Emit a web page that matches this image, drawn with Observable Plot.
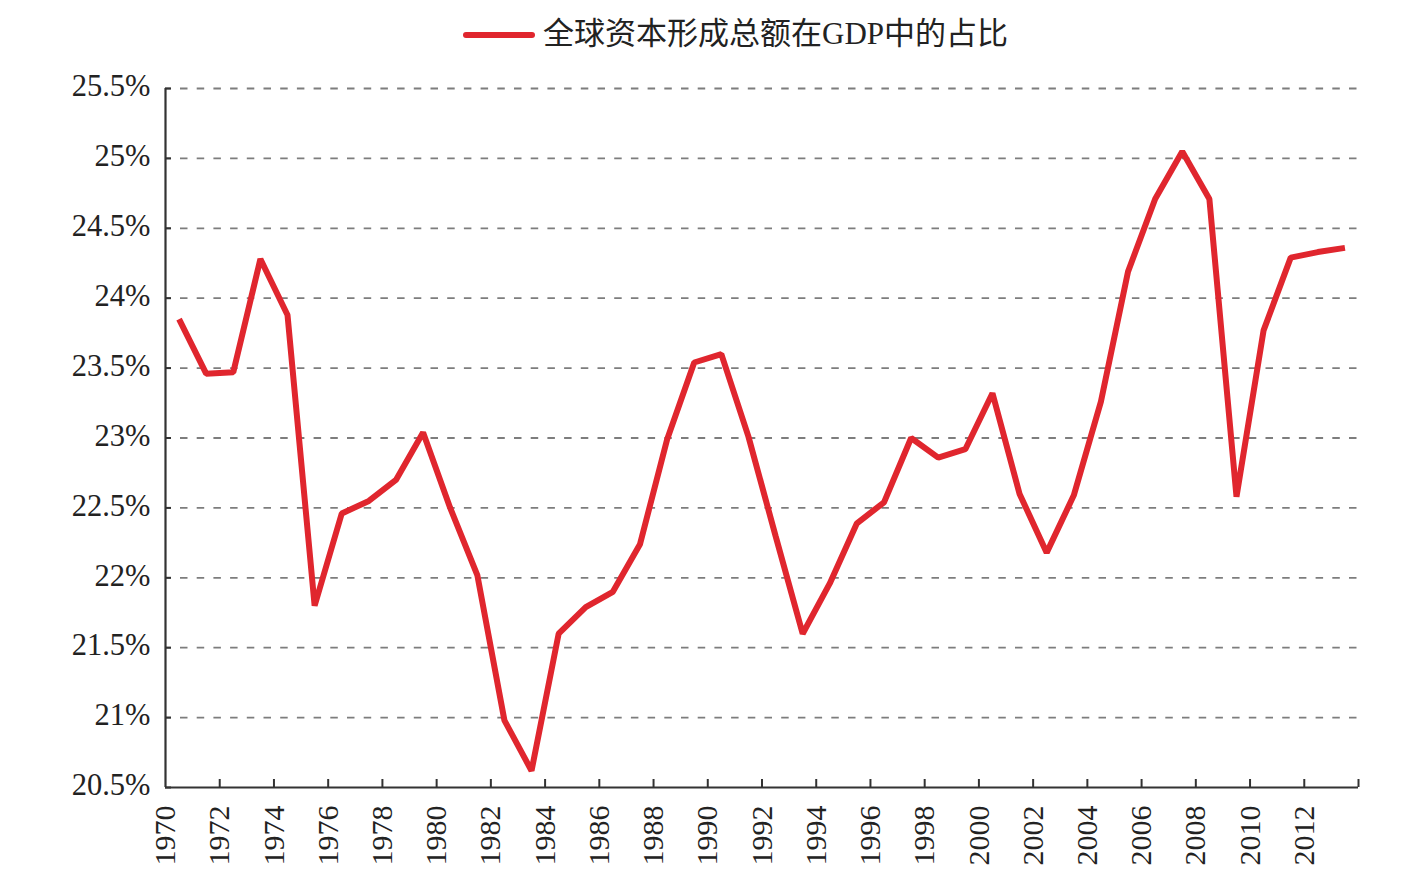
<!DOCTYPE html>
<html>
<head>
<meta charset="utf-8">
<script src="https://cdn.jsdelivr.net/npm/d3@7"></script>
<script src="https://cdn.jsdelivr.net/npm/@observablehq/plot@0.6"></script>
<style>
  html, body { margin: 0; padding: 0; background: #fff; }
  #legend {
    height: 65px; position: relative;
    font-family: "Liberation Serif", "Noto Sans CJK SC", serif;
    font-size: 31px; color: #222;
  }
  #legend .swatch {
    position: absolute; left: 463px; top: 32px; width: 72px; height: 6px;
    border-radius: 3px; background: #e0262e;
  }
  #legend .label { position: absolute; left: 543px; top: 13px; line-height: 42px; white-space: nowrap; }
  #chart svg { display: block; }
</style>
</head>
<body>
<div id="legend"><span class="swatch"></span><span class="label">全球资本形成总额在GDP中的占比</span></div>
<div id="chart"></div>
<script>
// Gross capital formation, share of world GDP (%), 1970–2013
const years = d3.range(1970, 2014);
const shares = [
  23.85, 23.46, 23.47, 24.28, 23.88, 21.80, 22.46, 22.55, 22.70, 23.04,
  22.50, 22.02, 20.98, 20.62, 21.60, 21.79, 21.90, 22.24, 22.99, 23.54,
  23.60, 23.01, 22.30, 21.60, 21.96, 22.39, 22.54, 23.00, 22.86, 22.92,
  23.32, 22.60, 22.18, 22.59, 23.26, 24.19, 24.71, 25.05, 24.71, 22.58,
  23.77, 24.29, 24.33, 24.36
];
const yTicks = [20.5, 21, 21.5, 22, 22.5, 23, 23.5, 24, 24.5, 25, 25.5];
const xLabelYears = d3.range(1970, 2013, 2);
const xTickYears = d3.range(1972, 2015, 2);
const xDomain = [1970, 2014];
const yDomain = [20.5, 25.5];

const seriesName = "全球资本形成总额在GDP中的占比";
const rows = years.map((year, i) => ({year, share: shares[i], series: seriesName}));

const W = 1420, H = 821;
const mL = 165, mR = 62, mT = 23, mB = 99;
const plotW = W - mL - mR, plotH = H - mT - mB;
const axisColor = "#333";
const font = "'Liberation Serif', 'Times New Roman', serif";

const chart = Plot.plot({
  width: W, height: H,
  marginLeft: mL, marginRight: mR, marginTop: mT, marginBottom: mB,
  style: {fontFamily: font, background: "#fff", color: "#222"},
  x: {domain: xDomain},
  y: {domain: yDomain},
  marks: [
    // dashed horizontal gridlines
    Plot.ruleY(yTicks.slice(1), {
      y: d => d, x1: xDomain[0], x2: xDomain[1],
      stroke: "#7d7d7d", strokeWidth: 1.8,
      strokeDasharray: "7.5,9.2", strokeDashoffset: 1.7
    }),
    // inward y ticks
    Plot.tickY(yTicks, {y: d => d, stroke: axisColor, strokeWidth: 2, insetRight: plotW - 6}),
    // inward x ticks
    Plot.tickX(xTickYears, {x: d => d, stroke: axisColor, strokeWidth: 2, insetTop: plotH - 8}),
    // axis lines
    Plot.ruleX([xDomain[0]], {stroke: axisColor, strokeWidth: 2.2}),
    Plot.ruleY([yDomain[0]], {x1: xDomain[0], x2: xDomain[1], stroke: axisColor, strokeWidth: 2.2}),
    Plot.axisY(yTicks, {
      tickSize: 0, tickPadding: 15, fontSize: 30.5, label: null, dy: -2,
      tickFormat: d => `${d}%`
    }),
    Plot.axisX(xLabelYears, {
      tickSize: 0, tickPadding: 18, tickRotate: -90, fontSize: 30, label: null,
      tickFormat: d => String(d)
    }),
    // the series, each value centred in its year
    Plot.line(rows, {
      x: d => d.year + 0.5, y: "share",
      stroke: "#e0262e", strokeWidth: 6,
      strokeLinejoin: "miter", strokeLinecap: "butt"
    })
  ]
});
document.getElementById("chart").append(chart);
</script>
</body>
</html>
